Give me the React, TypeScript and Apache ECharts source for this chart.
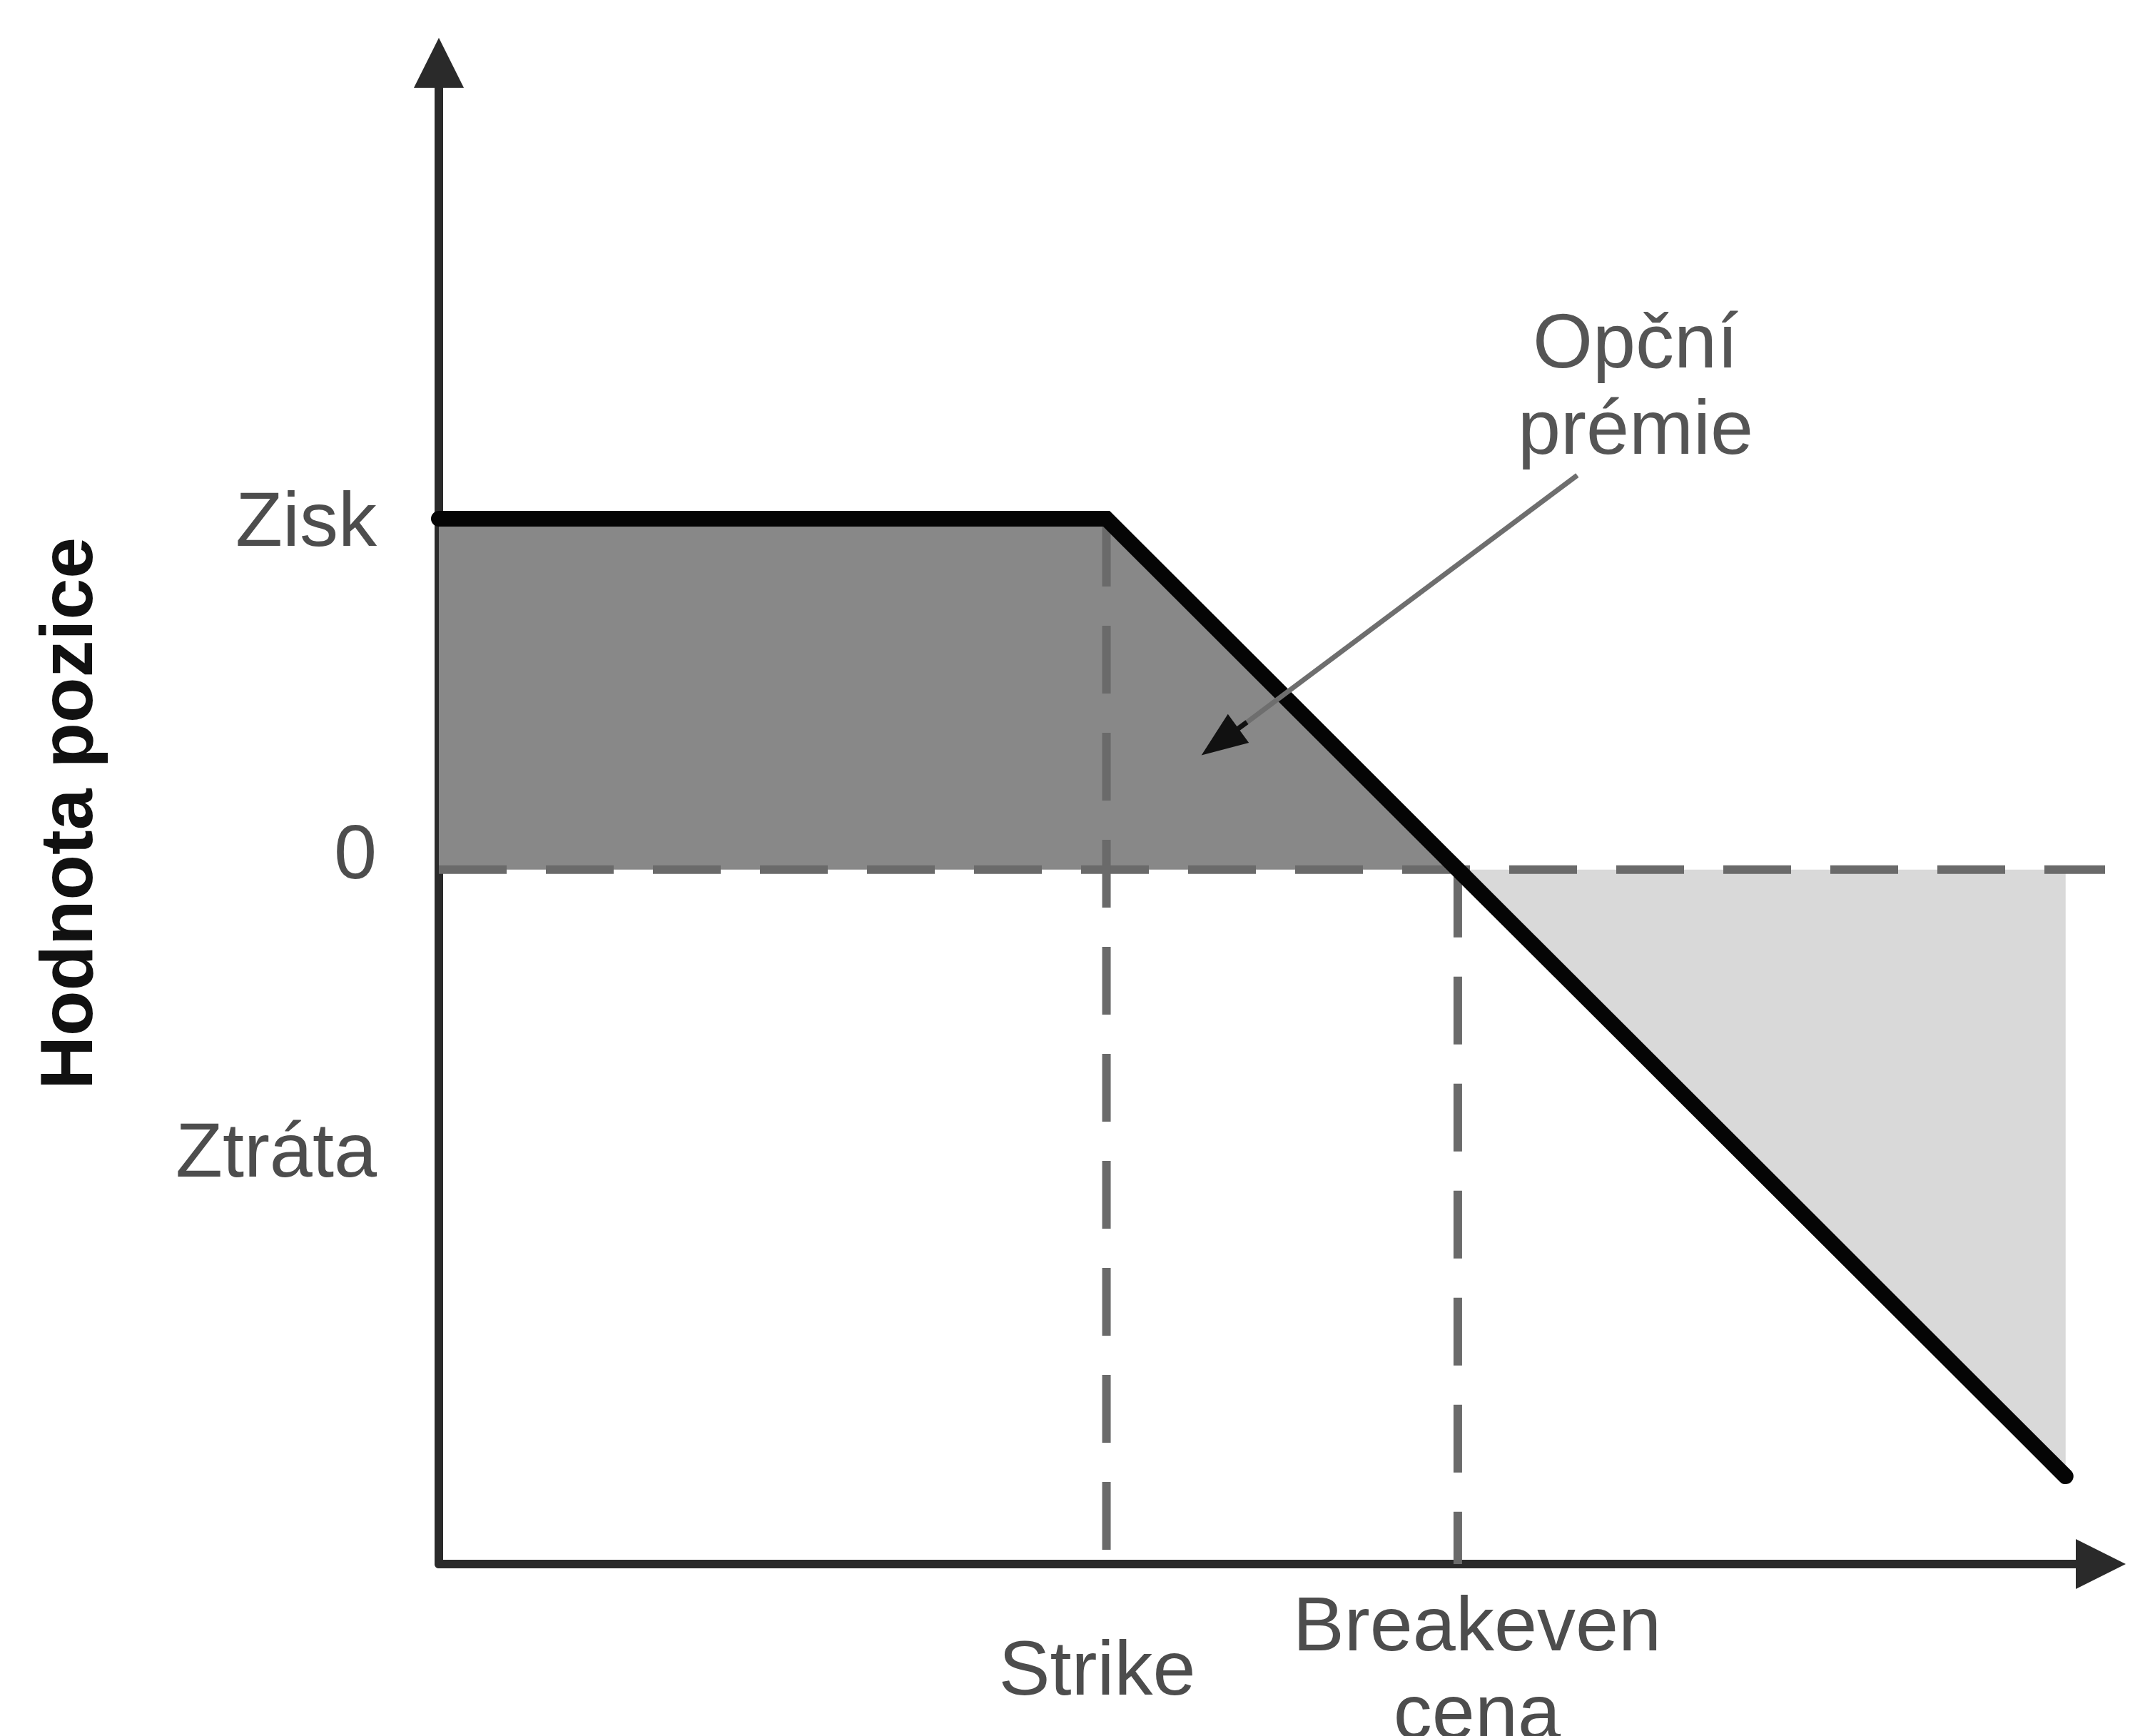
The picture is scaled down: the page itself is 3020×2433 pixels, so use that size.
import React, { useEffect, useRef } from "react";
import * as echarts from "echarts";

// ---- data (schematic units) ----
const payoffX = [0, 19, 29, 46.3];
const payoffY = [10, 10, 0, -17.3];
const premiumAreaX = [0, 19, 29];
const premiumAreaY = [10, 10, 0];
const lossAreaX = [29, 46.3];
const lossAreaY = [0, -17.3];
const zeroLineX = [0, 47.5];
const strikeValue = 19;
const breakevenValue = 29;
const ziskValue = 10;
const xTickValues = [19, 29];
const xTickLabels = ["{s|Strike}", "{b|Breakeven}\n{b|cena}"];
const yTickValues = [10, 0, -8];
const yTickLabels = ["Zisk", "{z|0}", "Ztráta"];
const annotationFrom = [32.4, 11.24];
const annotationMid = [23.0, 4.2];
const annotationTo = [22.23, 3.64];
const annotationText = "Opční\nprémie";
const yAxisTitle = "Hodnota pozice";

const FONT = "'Liberation Sans', Arial, sans-serif";
const LABEL_COLOR = "#4d4d4d";

const pts = (xs: number[], ys: number[]) => xs.map((x, i) => [x, ys[i]]);

export default function App() {
  const ref = useRef<HTMLDivElement>(null);
  useEffect(() => {
    if (!ref.current) return;
    const chart = echarts.init(ref.current, null, { renderer: "svg" });
    const yMin = -19.8;
    const labelStyle = { fontSize: 108, lineHeight: 123, fontFamily: FONT, color: LABEL_COLOR };
    chart.setOption({
      animation: false,
      backgroundColor: "#ffffff",
      grid: { left: 615, right: 76, top: 88, bottom: 241, containLabel: false, outerBoundsMode: "none" },
      xAxis: {
        type: "value",
        min: 0,
        max: 47.3,
        splitLine: { show: false },
        axisTick: { show: false },
        axisLine: {
          onZero: false,
          symbol: ["none", "triangle"],
          symbolSize: [70, 70],
          lineStyle: { color: "#2a2a2a", width: 12 },
        },
        axisLabel: {
          customValues: xTickValues,
          formatter: (v: number) => {
            const i = xTickValues.indexOf(v);
            return i >= 0 ? xTickLabels[i] : "";
          },
          verticalAlign: "middle",
          margin: 145,
          ...labelStyle,
          rich: {
            s: { ...labelStyle, padding: [0, 26, 0, 0] },
            b: { ...labelStyle, padding: [0, 0, 0, 54] },
          },
        },
      },
      yAxis: {
        type: "value",
        min: yMin,
        max: 23,
        splitLine: { show: false },
        axisTick: { show: false },
        name: yAxisTitle,
        nameLocation: "middle",
        nameRotate: 90,
        nameGap: 470,
        nameTextStyle: { fontSize: 104, fontWeight: "bold", fontFamily: FONT, color: "#111111" },
        axisLine: {
          onZero: false,
          symbol: ["none", "triangle"],
          symbolSize: [70, 70],
          lineStyle: { color: "#2a2a2a", width: 12 },
        },
        axisLabel: {
          customValues: yTickValues,
          formatter: (v: number) => {
            const i = yTickValues.indexOf(v);
            return i >= 0 ? yTickLabels[i] : "";
          },
          margin: 87,
          fontSize: 108,
          fontFamily: FONT,
          color: LABEL_COLOR,
          rich: { z: { fontSize: 108, fontFamily: FONT, color: LABEL_COLOR, padding: [0, 0, 50, 0] } },
        },
      },
      graphic: [
        {
          type: "text",
          x: 2292,
          y: 417,
          style: {
            text: annotationText,
            fontSize: 108,
            lineHeight: 121,
            fontFamily: FONT,
            fill: "#555555",
            align: "center",
            verticalAlign: "top",
          },
          z: 10,
        },
      ],
      series: [
        {
          type: "line",
          data: pts(premiumAreaX, premiumAreaY),
          symbol: "none",
          lineStyle: { width: 0 },
          areaStyle: { color: "#888888", opacity: 1, origin: 0 },
          z: 1,
        },
        {
          type: "line",
          data: pts(lossAreaX, lossAreaY),
          symbol: "none",
          lineStyle: { width: 0 },
          areaStyle: { color: "#d9d9d9", opacity: 1, origin: 0 },
          z: 1,
        },
        {
          type: "line",
          data: zeroLineX.map((x) => [x, 0]),
          symbol: "none",
          clip: false,
          lineStyle: { color: "#6a6a6a", width: 12, type: [95, 55] },
          z: 2,
        },
        {
          type: "line",
          data: [
            [strikeValue, ziskValue],
            [strikeValue, yMin],
          ],
          symbol: "none",
          lineStyle: { color: "#6a6a6a", width: 12, type: [95, 55] },
          z: 2,
        },
        {
          type: "line",
          data: [
            [breakevenValue, 0],
            [breakevenValue, yMin],
          ],
          symbol: "none",
          lineStyle: { color: "#6a6a6a", width: 12, type: [95, 55] },
          z: 2,
        },
        {
          type: "line",
          data: pts(payoffX, payoffY),
          symbol: "none",
          lineStyle: { color: "#050505", width: 22, cap: "round", join: "miter" },
          z: 3,
          markLine: {
            silent: true,
            symbol: ["none", "none"],
            label: { show: false },
            emphasis: { disabled: true },
            data: [
              [
                { coord: annotationFrom, lineStyle: { color: "#6e6e6e", width: 7, type: "solid" } },
                { coord: annotationMid },
              ],
              [
                { coord: annotationMid, lineStyle: { color: "#111111", width: 7, type: "solid" } },
                { coord: annotationTo, symbol: "triangle", symbolSize: [50, 64] },
              ],
            ],
          },
        },
      ],
    });
    return () => chart.dispose();
  }, []);
  return (
    <div
      ref={ref}
      style={{ position: "absolute", left: 0, top: 0, width: 3020, height: 2433 }}
    />
  );
}
